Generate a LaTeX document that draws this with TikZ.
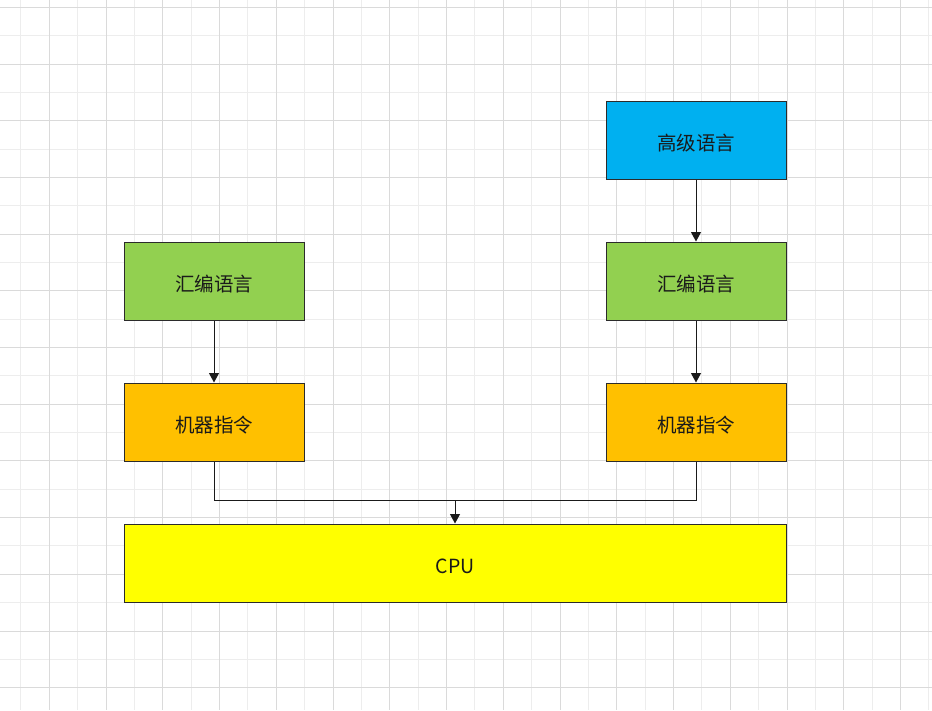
\documentclass[tikz,border=0pt]{standalone}
\usepackage{fontspec}
\setmainfont{Noto Sans CJK SC}
\usetikzlibrary{arrows.meta}
\definecolor{gridminor}{HTML}{EDEDED}
\definecolor{gridmajor}{HTML}{DADADA}
\definecolor{bluebox}{HTML}{00B0F0}
\definecolor{greenbox}{HTML}{92D050}
\definecolor{orangebox}{HTML}{FFC000}
\definecolor{yellowbox}{HTML}{FFFF00}
\definecolor{linecol}{HTML}{1A1A1A}
\definecolor{bordercol}{HTML}{2B2B2B}
\tikzset{
  box/.style={draw=bordercol, line width=1pt, minimum width=180pt, minimum height=78pt,
    inner sep=0pt, text=linecol, font=\fontsize{19.5}{23}\selectfont,
    text height=20pt, text depth=0pt},
  conn/.style={draw=linecol, line width=1pt},
  arr/.style={conn, -{Triangle[length=9.5pt,width=10pt]}}
}
\begin{document}
\begin{tikzpicture}[x=1pt,y=-1pt]
\useasboundingbox (0,0) rectangle (932,710);
\fill[white] (0,0) rectangle (932,710);
% minor grid
\foreach \i in {0,...,33} {
  \draw[gridminor, line width=1pt] ({-7.45+28.375*\i},0) -- ({-7.45+28.375*\i},710);
}
\foreach \j in {0,...,25} {
  \draw[gridminor, line width=1pt] (0,{7.3+28.35*(\j-1)}) -- (932,{7.3+28.35*(\j-1)});
}
% major grid
\foreach \i in {0,...,17} {
  \draw[gridmajor, line width=1pt] ({-7.45+56.75*\i},0) -- ({-7.45+56.75*\i},710);
}
\foreach \j in {0,...,13} {
  \draw[gridmajor, line width=1pt] (0,{7.3+56.7*\j}) -- (932,{7.3+56.7*\j});
}
% boxes
\node[box, fill=bluebox] (hl) at (696,140) {高级语言};
\node[box, fill=greenbox] (asmR) at (696,281) {汇编语言};
\node[box, fill=greenbox] (asmL) at (214,281) {汇编语言};
\node[box, fill=orangebox] (mcL) at (214,422) {机器指令};
\node[box, fill=orangebox] (mcR) at (696,422) {机器指令};
\node[box, fill=yellowbox, minimum width=662pt] (cpu) at (455,563) {CPU};
\coordinate (j) at (455,500);
% connectors
\draw[arr] (hl.south) -- (asmR.north);
\draw[arr] (asmR.south) -- (mcR.north);
\draw[arr] (asmL.south) -- (mcL.north);
\draw[conn] (mcL.south) |- (j);
\draw[conn] (mcR.south) |- (j);
\draw[arr] (j) -- (cpu.north);
\end{tikzpicture}
\end{document}
